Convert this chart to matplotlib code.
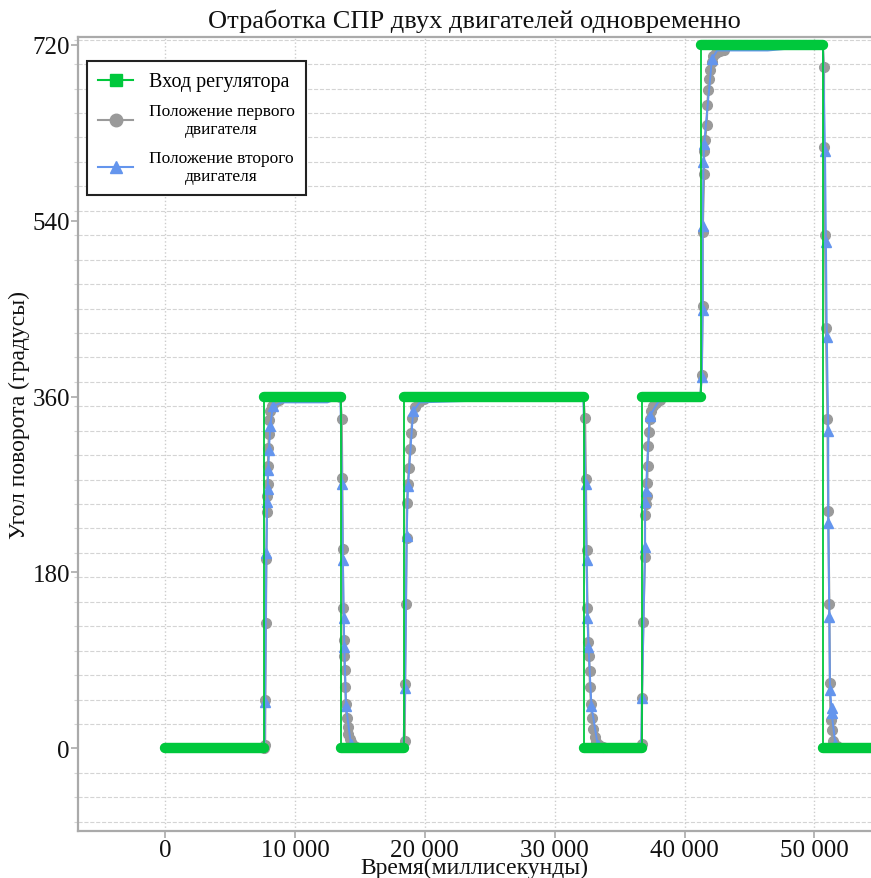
import matplotlib
matplotlib.use("Agg")
import matplotlib.pyplot as plt
from matplotlib.lines import Line2D
from matplotlib.ticker import MultipleLocator, FuncFormatter

plt.rcParams['font.family'] = ['Liberation Serif', 'DejaVu Serif']

GREEN = '#00c83c'
GRAY = '#9a9a9a'
BLUE = '#6495ed'

# вход регулятора: моменты переключения и уровни (мс, градусы)
switch_t = [0, 7650, 13550, 18400, 32260, 36700, 41240, 50680]
levels = [0, 360, 0, 360, 0, 360, 720, 0]
end_t = 56000

# положение первого двигателя
m1_t = [0, 7650, 7700, 7720, 7760, 7800, 7840, 7860, 7890, 7920, 7960, 8000, 8040, 8100, 8200,
        8350, 8550, 8800, 12500, 13500,
        13600, 13640, 13680, 13720, 13760, 13800, 13840, 13880, 13930, 13980, 14050, 14120,
        14200, 14300, 14450, 14700, 18350,
        18450, 18480, 18550, 18600, 18620, 18700, 18780, 18850, 18950, 19050, 19250, 19550,
        19900, 32200,
        32330, 32400, 32450, 32520, 32600, 32650, 32680, 32720, 32800, 32870, 32950, 33100,
        33200, 33400, 33700, 36650,
        36700, 36720, 36820, 36950, 36950, 37020, 37080, 37120, 37150, 37200, 37280, 37330,
        37450, 37600, 37800, 38100, 41200,
        41320, 41390, 41390, 41500, 41500, 41570, 41700, 41750, 41830, 41900, 41950, 42080,
        42200, 42450, 42700, 43000, 50650,
        50730, 50730, 50810, 50880, 51000, 51060, 51140, 51190, 51240, 51320, 51400, 51700,
        56000]
m1_deg = [0, 0, 3, 50, 128, 194, 242, 258, 270, 289, 307, 322, 336, 345, 350,
          353, 355, 356, 356, 359,
          337, 277, 204, 144, 111, 95, 80, 63, 45, 31, 22, 15,
          10, 7, 3, 1, 0,
          8, 66, 148, 215, 251, 270, 287, 306, 323, 338, 349, 354,
          357, 359,
          338, 276, 203, 144, 109, 95, 79, 63, 45, 31, 20, 12,
          7, 3, 1, 0,
          5, 52, 129, 196, 239, 250, 258, 272, 289, 309, 324, 337,
          345, 350, 353, 356, 359,
          382, 453, 528, 588, 611, 622, 638, 658, 674, 685, 694, 702,
          708, 711, 713, 715, 718,
          697, 615, 525, 430, 337, 243, 148, 67, 29, 19, 8, 2,
          1]
# точки удержания без маркеров
m1_hold = [0, 12500, 18350, 32200, 36650, 41200, 50650, 56000]

# положение второго двигателя
m2_t = [0, 7650, 7700, 7800, 7860, 7890, 7950, 8000, 8100, 8300, 9000, 12500, 13500,
        13620, 13690, 13760, 13800, 13930, 14300, 14700, 18350,
        18480, 18600, 18700, 19100, 19600, 32200,
        32370, 32450, 32520, 32600, 32830, 33300, 33700, 36650,
        36720, 36950, 36950, 37020, 37300, 38000, 41200,
        41320, 41390, 41390, 41450, 41500, 42100, 42500, 46400, 50650,
        50810, 50880, 50950, 51060, 51060, 51140, 51190, 51320, 51320, 51600, 52000, 56000]
m2_deg = [0, 0, 48, 200, 252, 265, 285, 305, 330, 350, 354, 354, 359,
          270, 193, 133, 104, 43, 5, 0, 0,
          62, 217, 268, 345, 354, 359,
          270, 193, 133, 104, 43, 4, 0, 0,
          52, 206, 252, 263, 340, 355, 359,
          380, 449, 534, 600, 618, 705, 714, 714, 719,
          611, 518, 421, 325, 231, 134, 60, 41, 36, 5, 0, 0]
m2_hold = [0, 7650, 9000, 12500, 13500, 14700, 18350, 19600, 32200, 33700, 36650, 38000,
           41200, 42500, 46400, 50650, 52000, 56000]

yticks = [0, 180, 360, 540, 720]
xticks = [0, 10000, 20000, 30000, 40000, 50000]

fig = plt.figure(figsize=(8.71, 8.79), dpi=100)
ax = fig.add_axes([0.089, 0.054, 0.911, 0.903])

m1_marks = [i for i, t in enumerate(m1_t) if t not in m1_hold]
m2_marks = [i for i, t in enumerate(m2_t) if t not in m2_hold]
ax.plot(m1_t, m1_deg, color=GRAY, lw=1.6, marker='o', markersize=7, markevery=m1_marks, zorder=2)
ax.plot(m2_t, m2_deg, color=BLUE, lw=1.4, marker='^', markersize=7, markevery=m2_marks, zorder=3)

# тонкие вертикальные переходы
ax.plot(switch_t + [end_t], levels + [levels[-1]], color=GREEN, lw=1.3,
        drawstyle='steps-post', zorder=4)
bars = ax.hlines(levels, switch_t, switch_t[1:] + [end_t], colors=GREEN, lw=7.5, zorder=4)
bars.set_capstyle('round')

ax.set_xlim(-6740, 54350)
ax.set_ylim(-84, 728)
ax.set_xticks(xticks)
ax.set_yticks(yticks)
ax.yaxis.set_minor_locator(MultipleLocator(25))
ax.xaxis.set_major_formatter(FuncFormatter(lambda v, p: f"{int(v):,}".replace(',', ' ')))

ax.grid(True, axis='x', which='major', color='#cccccc', ls=':', lw=1)
ax.grid(True, axis='y', which='minor', color='#d4d4d4', ls='--', lw=0.8)

for s in ['left', 'bottom', 'top']:
    ax.spines[s].set_color('#aaaaaa')
    ax.spines[s].set_linewidth(1.6)
ax.spines['right'].set_visible(False)
ax.tick_params(axis='both', which='major', color='#aaaaaa', length=5, width=1.2,
               labelsize=18, labelcolor='#111111')
ax.tick_params(axis='x', which='major', pad=1)
ax.tick_params(axis='y', which='major', pad=0.5)
ax.tick_params(axis='y', which='minor', color='#d4d4d4', length=3, width=0.8)

ax.set_title('Отработка СПР двух двигателей одновременно', fontsize=19, pad=7, color='#111111')
ax.set_xlabel('Время(миллисекунды)', fontsize=17, labelpad=-3, color='#111111')
ax.set_ylabel('Угол поворота (градусы)', fontsize=17, color='#111111')
ax.yaxis.set_label_coords(-0.06, 0.525)

handles = [
    Line2D([], [], color=GREEN, lw=1.5, marker='s', markersize=9),
    Line2D([], [], color=GRAY, lw=1.5, marker='o', markersize=9),
    Line2D([], [], color=BLUE, lw=1.5, marker='^', markersize=9),
]
names = ['Вход регулятора', 'Положение первого\nдвигателя', 'Положение второго\nдвигателя']
leg = ax.legend(handles, names, loc='upper left', bbox_to_anchor=(0.012, 0.97), borderaxespad=0,
                fancybox=False, framealpha=1, edgecolor='#222222', fontsize=12.5,
                handlelength=2.0, handletextpad=0.9, labelspacing=0.7, borderpad=0.65)
leg.get_frame().set_linewidth(1.5)
leg.set_zorder(10)
texts = leg.get_texts()
texts[0].set_fontsize(14.5)
for t in texts:
    t.set_multialignment('center')

fig.savefig('out.png', dpi=100)
